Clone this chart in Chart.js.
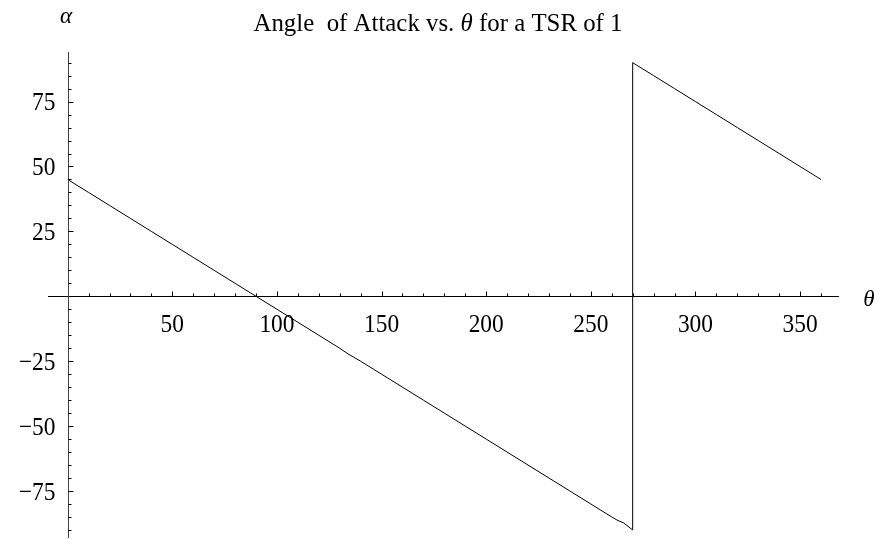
<!DOCTYPE html>
<html>
<head>
<meta charset="utf-8">
<script src="https://cdn.jsdelivr.net/npm/chart.js@4/dist/chart.umd.min.js"></script>
<style>
  html, body { margin: 0; padding: 0; background: #fff; }
  #wrap { width: 877px; height: 539px; }
</style>
</head>
<body>
<div id="wrap"><canvas id="c" width="877" height="539"></canvas></div>
<script>
// Angle of attack (degrees) against azimuth angle theta (degrees), TSR = 1
const thetaValues = [0, 10, 20, 30, 40, 50, 60, 70, 80, 90, 100, 110, 120, 130, 134,
  140, 150, 160, 170, 180, 190, 200, 210, 220, 230, 240, 250, 260, 263, 265.5, 270,
  270, 272, 280, 290, 300, 310, 320, 330, 340, 350, 360];
const alphaValues = [45, 40, 35, 30, 25, 20, 15, 10, 5, 0, -5, -10, -15, -20, -22.2,
  -25, -30, -35, -40, -45, -50, -55, -60, -65, -70, -75, -80, -85, -86.4, -87.2, -90,
  90, 89, 85, 80, 75, 70, 65, 60, 55, 50, 45];

// Axis ticks
const xMajorTicks = [50, 100, 150, 200, 250, 300, 350];
const xMinorTicks = [10, 20, 30, 40, 60, 70, 80, 90, 110, 120, 130, 140, 160, 170, 180, 190,
  210, 220, 230, 240, 260, 270, 280, 290, 310, 320, 330, 340, 360];
const yMajorTicks = [-75, -50, -25, 25, 50, 75];
const yMinorTicks = [-90, -85, -80, -70, -65, -60, -55, -45, -40, -35, -30, -20, -15, -10, -5,
  5, 10, 15, 20, 30, 35, 40, 45, 55, 60, 65, 70, 80, 85, 90];

const titleParts = [
  { text: 'Angle  of Attack vs. ', italic: false },
  { text: '\u03B8', italic: true },
  { text: ' for a TSR of 1', italic: false }
];

const points = thetaValues.map((t, i) => ({ x: t, y: alphaValues[i] }));

const SERIF = '"Liberation Serif", "Times New Roman", serif';

// draws text squeezed horizontally by factor sx around the anchor
function drawScaled(ctx, text, x, y, sx, align) {
  ctx.save();
  ctx.translate(x, y);
  ctx.scale(sx, 1);
  ctx.textAlign = align;
  ctx.fillText(text, 0, 0);
  ctx.restore();
}

const axesPlugin = {
  id: 'crossedAxes',
  afterDraw(chart) {
    const ctx = chart.ctx;
    const xs = chart.scales.x;
    const ys = chart.scales.y;
    const x0 = Math.round(xs.getPixelForValue(0)) + 0.5;
    const y0 = Math.round(ys.getPixelForValue(0)) + 0.5;
    ctx.save();

    // axis lines
    ctx.lineWidth = 1;
    ctx.strokeStyle = '#000';
    ctx.beginPath();
    ctx.moveTo(xs.left, y0);
    ctx.lineTo(xs.right, y0);
    ctx.stroke();
    ctx.strokeStyle = '#444';
    ctx.beginPath();
    ctx.moveTo(x0, ys.top);
    ctx.lineTo(x0, ys.bottom);
    ctx.stroke();

    // x ticks (drawn upward from the axis)
    ctx.strokeStyle = '#000';
    ctx.beginPath();
    xMajorTicks.forEach(v => {
      const p = Math.round(xs.getPixelForValue(v)) + 0.5;
      ctx.moveTo(p, y0); ctx.lineTo(p, y0 - 5);
    });
    xMinorTicks.forEach(v => {
      const p = Math.round(xs.getPixelForValue(v)) + 0.5;
      ctx.moveTo(p, y0); ctx.lineTo(p, y0 - 3);
    });
    ctx.stroke();

    // y ticks (drawn to the right of the axis)
    ctx.beginPath();
    yMajorTicks.forEach(v => {
      const p = Math.round(ys.getPixelForValue(v)) + 0.5;
      ctx.moveTo(x0, p); ctx.lineTo(x0 + 5, p);
    });
    yMinorTicks.forEach(v => {
      const p = Math.round(ys.getPixelForValue(v)) + 0.5;
      ctx.moveTo(x0, p); ctx.lineTo(x0 + 3, p);
    });
    ctx.stroke();

    // tick labels
    ctx.fillStyle = '#000';
    ctx.font = '26px ' + SERIF;
    ctx.textBaseline = 'alphabetic';
    xMajorTicks.forEach(v => {
      drawScaled(ctx, String(v), xs.getPixelForValue(v), y0 + 35, 0.9, 'center');
    });
    yMajorTicks.forEach(v => {
      const label = v < 0 ? '\u2212' + Math.abs(v) : String(v);
      drawScaled(ctx, label, x0 - 13, ys.getPixelForValue(v) + 8.5, 0.9, 'right');
    });

    // axis names
    ctx.font = 'italic 23px ' + SERIF;
    drawScaled(ctx, '\u03B1', 66, 23, 1, 'center');
    drawScaled(ctx, '\u03B8', 869, 306, 1, 'center');

    // title, fitted to its line width
    const titleFont = '25px ' + SERIF;
    const titleItalic = 'italic 25px ' + SERIF;
    let total = 0;
    titleParts.forEach(p => {
      ctx.font = p.italic ? titleItalic : titleFont;
      total += ctx.measureText(p.text).width;
    });
    const sx = Math.min(1.05, 369 / total);
    let tx = 438 - (total * sx) / 2;
    titleParts.forEach(p => {
      ctx.font = p.italic ? titleItalic : titleFont;
      drawScaled(ctx, p.text, tx, 31, sx, 'left');
      tx += ctx.measureText(p.text).width * sx;
    });

    ctx.restore();
  }
};

new Chart(document.getElementById('c'), {
  type: 'scatter',
  data: {
    datasets: [{
      data: points,
      showLine: true,
      borderColor: '#000',
      borderWidth: 1,
      pointRadius: 0,
      pointHoverRadius: 0,
      tension: 0,
      fill: false
    }]
  },
  options: {
    responsive: false,
    animation: false,
    events: [],
    layout: { padding: { left: 48, right: 38, top: 52, bottom: 1 } },
    plugins: {
      legend: { display: false },
      tooltip: { enabled: false },
      title: { display: false }
    },
    scales: {
      x: { type: 'linear', min: -9.4, max: 368.6, display: false },
      y: { type: 'linear', min: -93.1, max: 94.1, display: false }
    }
  },
  plugins: [axesPlugin]
});
</script>
</body>
</html>
